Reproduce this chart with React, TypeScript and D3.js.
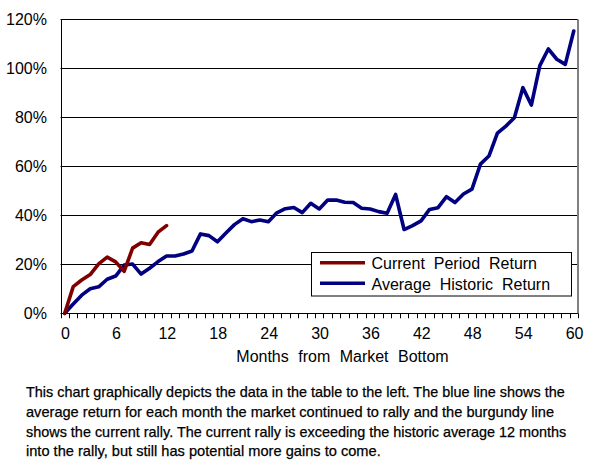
import React from "react";
import * as d3 from "d3";

const months: number[] = d3.range(0, 61);
const historicReturn: number[] = [
  0, 3.8, 7.4, 10.0, 10.8, 13.9, 15.2, 19.7, 20.1, 16.0,
  18.4, 21.1, 23.4, 23.4, 24.2, 25.4, 32.4, 31.7, 29.2, 32.8,
  36.2, 38.6, 37.4, 38.1, 37.4, 41.0, 42.7, 43.2, 41.1, 44.9,
  42.6, 46.2, 46.2, 45.3, 45.2, 42.9, 42.6, 41.5, 40.8, 48.5,
  34.2, 35.8, 37.7, 42.4, 43.1, 47.6, 45.2, 48.7, 50.7, 60.9,
  64.2, 73.5, 76.4, 79.8, 92.1, 85.0, 101.1, 107.9, 103.7, 101.6,
  115.2,
];
const currentReturn: number[] = [0, 10.9, 13.6, 15.8, 20.2, 22.9, 21.0, 17.1, 26.6, 28.8, 28.1, 33.1, 35.8];
const yTicks: number[] = [0, 20, 40, 60, 80, 100, 120];
const xTickLabels: number[] = [0, 6, 12, 18, 24, 30, 36, 42, 48, 54, 60];
const seriesNames: string[] = ["Current Period Return", "Average Historic Return"];
const captionLines: string[] = [
  "This chart graphically depicts the data in the table to the left. The blue line shows the",
  "average return for each month the market continued to rally and the burgundy line",
  "shows the current rally. The current rally is exceeding the historic average 12 months",
  "into the rally, but still has potential more gains to come.",
];

const W = 598;
const H = 470;
const left = 60.5;
const right = 578;
const top = 19.3;
const bottom = 313.3;
const RED = "#800000";
const BLUE = "#000080";
const FONT = "Arial, 'Liberation Sans', sans-serif";

export default function App() {
  const x = d3.scaleBand<number>().domain(months).range([left, right]).paddingInner(0).paddingOuter(0);
  const cx = (m: number) => (x(m) as number) + x.bandwidth() / 2;
  const y = d3.scaleLinear().domain([0, 120]).range([bottom, top]);

  const line = d3
    .line<number>()
    .x((_, i) => cx(months[i]))
    .y((d) => y(d));

  const boundaries = d3.range(0, 62).map((k) => left + k * x.bandwidth());
  const captionWidths = [538.7, 528, 540.3, 354.7];

  return (
    <svg width={W} height={H} style={{ position: "absolute", left: 0, top: 0, background: "#fff" }}>
      <rect x={0} y={0} width={W} height={H} fill="#fff" />
      {/* gridlines */}
      {yTicks.map((t) => (
        <line key={"g" + t} x1={left} x2={right} y1={Math.round(y(t)) + 0.5} y2={Math.round(y(t)) + 0.5} stroke="#000" strokeWidth={1} />
      ))}
      {/* right border */}
      <line x1={right} x2={right} y1={top} y2={bottom} stroke="#808080" strokeWidth={2} />
      {/* left axis */}
      <line x1={Math.round(left) + 0.5} x2={Math.round(left) + 0.5} y1={top} y2={bottom + 0.5} stroke="#000" strokeWidth={1} />
      {/* x ticks */}
      {boundaries.map((b, k) => (
        <line key={"t" + k} x1={Math.round(b) + 0.5} x2={Math.round(b) + 0.5} y1={bottom} y2={bottom + 5} stroke="#000" strokeWidth={1} />
      ))}
      {/* y tick labels */}
      {yTicks.map((t) => (
        <text key={"yl" + t} x={47} y={y(t) + 5.8} textAnchor="end" fontFamily={FONT} fontSize={16} fill="#000">
          {t}%
        </text>
      ))}
      {/* x tick labels */}
      {xTickLabels.map((m) => (
        <text key={"xl" + m} x={cx(m) + 0.8} y={339.3} textAnchor="middle" fontFamily={FONT} fontSize={16} fill="#000">
          {m}
        </text>
      ))}
      <text x={342.5} y={361.5} textAnchor="middle" fontFamily={FONT} fontSize={16} fill="#000" style={{ wordSpacing: "5px" }}>
        Months from Market Bottom
      </text>
      {/* series */}
      <path d={line(historicReturn) as string} fill="none" stroke={BLUE} strokeWidth={3.6} strokeLinejoin="round" strokeLinecap="round" />
      <path d={line(currentReturn) as string} fill="none" stroke={RED} strokeWidth={3.6} strokeLinejoin="round" strokeLinecap="round" />
      {/* legend */}
      <rect x={311.5} y={252.5} width={260} height={43.5} fill="#fff" stroke="#000" strokeWidth={1} />
      <line x1={320} x2={365} y1={262.7} y2={262.7} stroke={RED} strokeWidth={3.4} />
      <line x1={320} x2={365} y1={283.3} y2={283.3} stroke={BLUE} strokeWidth={3.4} />
      <text x={371.5} y={269.3} fontFamily={FONT} fontSize={16} fill="#000" style={{ wordSpacing: "4.5px" }}>
        {seriesNames[0]}
      </text>
      <text x={371.5} y={289.5} fontFamily={FONT} fontSize={16} fill="#000" style={{ wordSpacing: "4.5px" }}>
        {seriesNames[1]}
      </text>
      {/* caption */}
      {captionLines.map((s, i) => (
        <text
          key={"c" + i}
          x={26}
          y={397.3 + i * 19.6}
          fontFamily={FONT}
          fontSize={15}
          fill="#000"
          stroke="#000"
          strokeWidth={0.25}
          textLength={captionWidths[i]}
          lengthAdjust="spacingAndGlyphs"
        >
          {s}
        </text>
      ))}
    </svg>
  );
}
